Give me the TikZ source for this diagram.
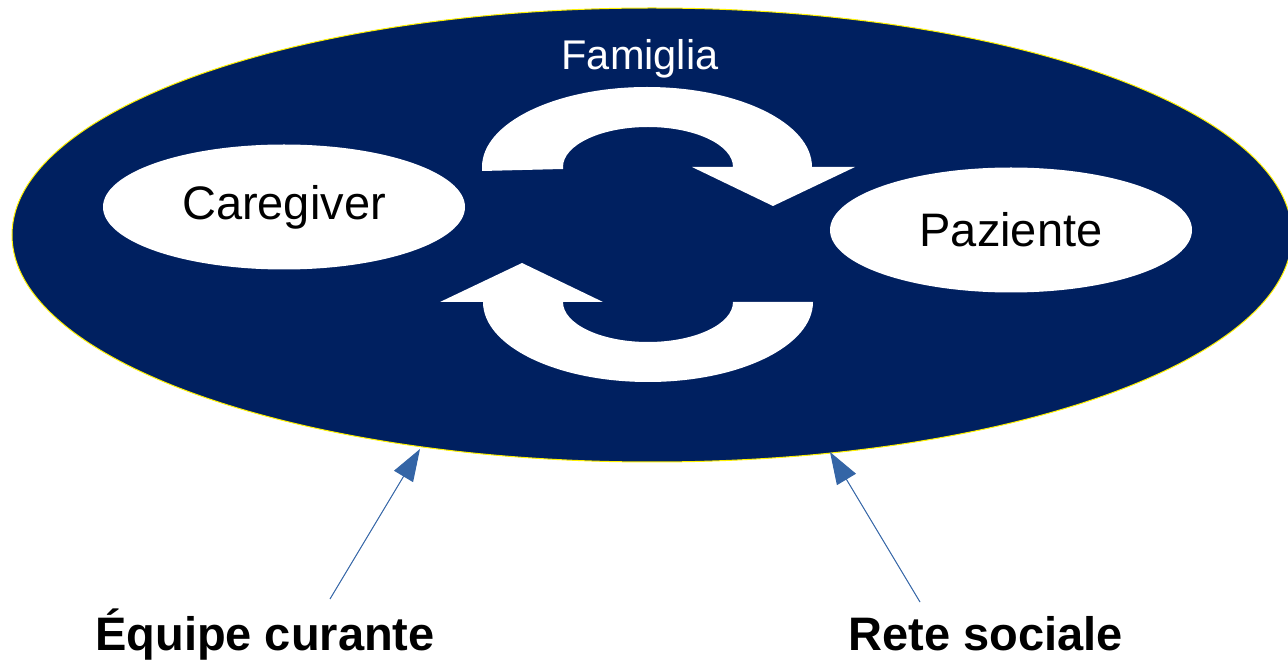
\documentclass[tikz,border=0pt]{standalone}
\usepackage{fontspec}
\setmainfont{Liberation Sans}
\usetikzlibrary{shapes.geometric,arrows.meta}
\definecolor{navy}{HTML}{002060}
\definecolor{linkblue}{HTML}{3465A6}
\tikzset{
  bigoval/.style={ellipse, fill=navy, draw=yellow, line width=1pt, inner sep=0pt},
  member/.style={ellipse, fill=white, draw=none, inner sep=0pt,
    minimum width=362pt, minimum height=125pt,
    font=\fontsize{47}{56}\selectfont},
  famlabel/.style={text=white, font=\fontsize{41.5}{48}\selectfont},
  extlabel/.style={anchor=base, font=\bfseries\fontsize{47}{56}\selectfont},
  cyclearrow/.style={fill=white, draw=none},
  link/.style={draw=linkblue, line width=1pt, -{Triangle[length=32pt,width=22pt]}, fill=linkblue}
}
\begin{document}
\begin{tikzpicture}[x=1pt,y=1pt]
\useasboundingbox (0,0) rectangle (1288,662);
\node[bigoval, minimum width=1280pt, minimum height=454pt] (fam) at (652,427) {};
\node[famlabel] (famiglia) at (640,603) {Famiglia};
\node[member] (care) at (284,455) {Caregiver};
\node[member] (paz) at (1011,432) {Paziente};
% top cycle arrow
\path[cyclearrow] (482,491) -- (482,495)
  arc[start angle=180, end angle=0, x radius=165, y radius=80]
  -- (855,495) -- (773,456) -- (692,495) -- (733,495)
  arc[start angle=0, end angle=180, x radius=85, y radius=40]
  -- (563,493) -- cycle;
% bottom cycle arrow
\path[cyclearrow] (813,360)
  arc[start angle=0, end angle=-180, x radius=165, y radius=80]
  -- (440,360) -- (522,399) -- (603,360) -- (563,360)
  arc[start angle=180, end angle=360, x radius=85, y radius=40]
  -- cycle;
% external labels
\node[extlabel] (equipe) at (265,12) {Équipe curante};
\node[extlabel] (rete) at (986,12) {Rete sociale};
\coordinate (s1) at (330,63);
\coordinate (t1) at (420,213);
\coordinate (s2) at (920,60);
\coordinate (t2) at (830,210);
\draw[link] (s1) -- (t1);
\draw[link] (s2) -- (t2);
\end{tikzpicture}
\end{document}
